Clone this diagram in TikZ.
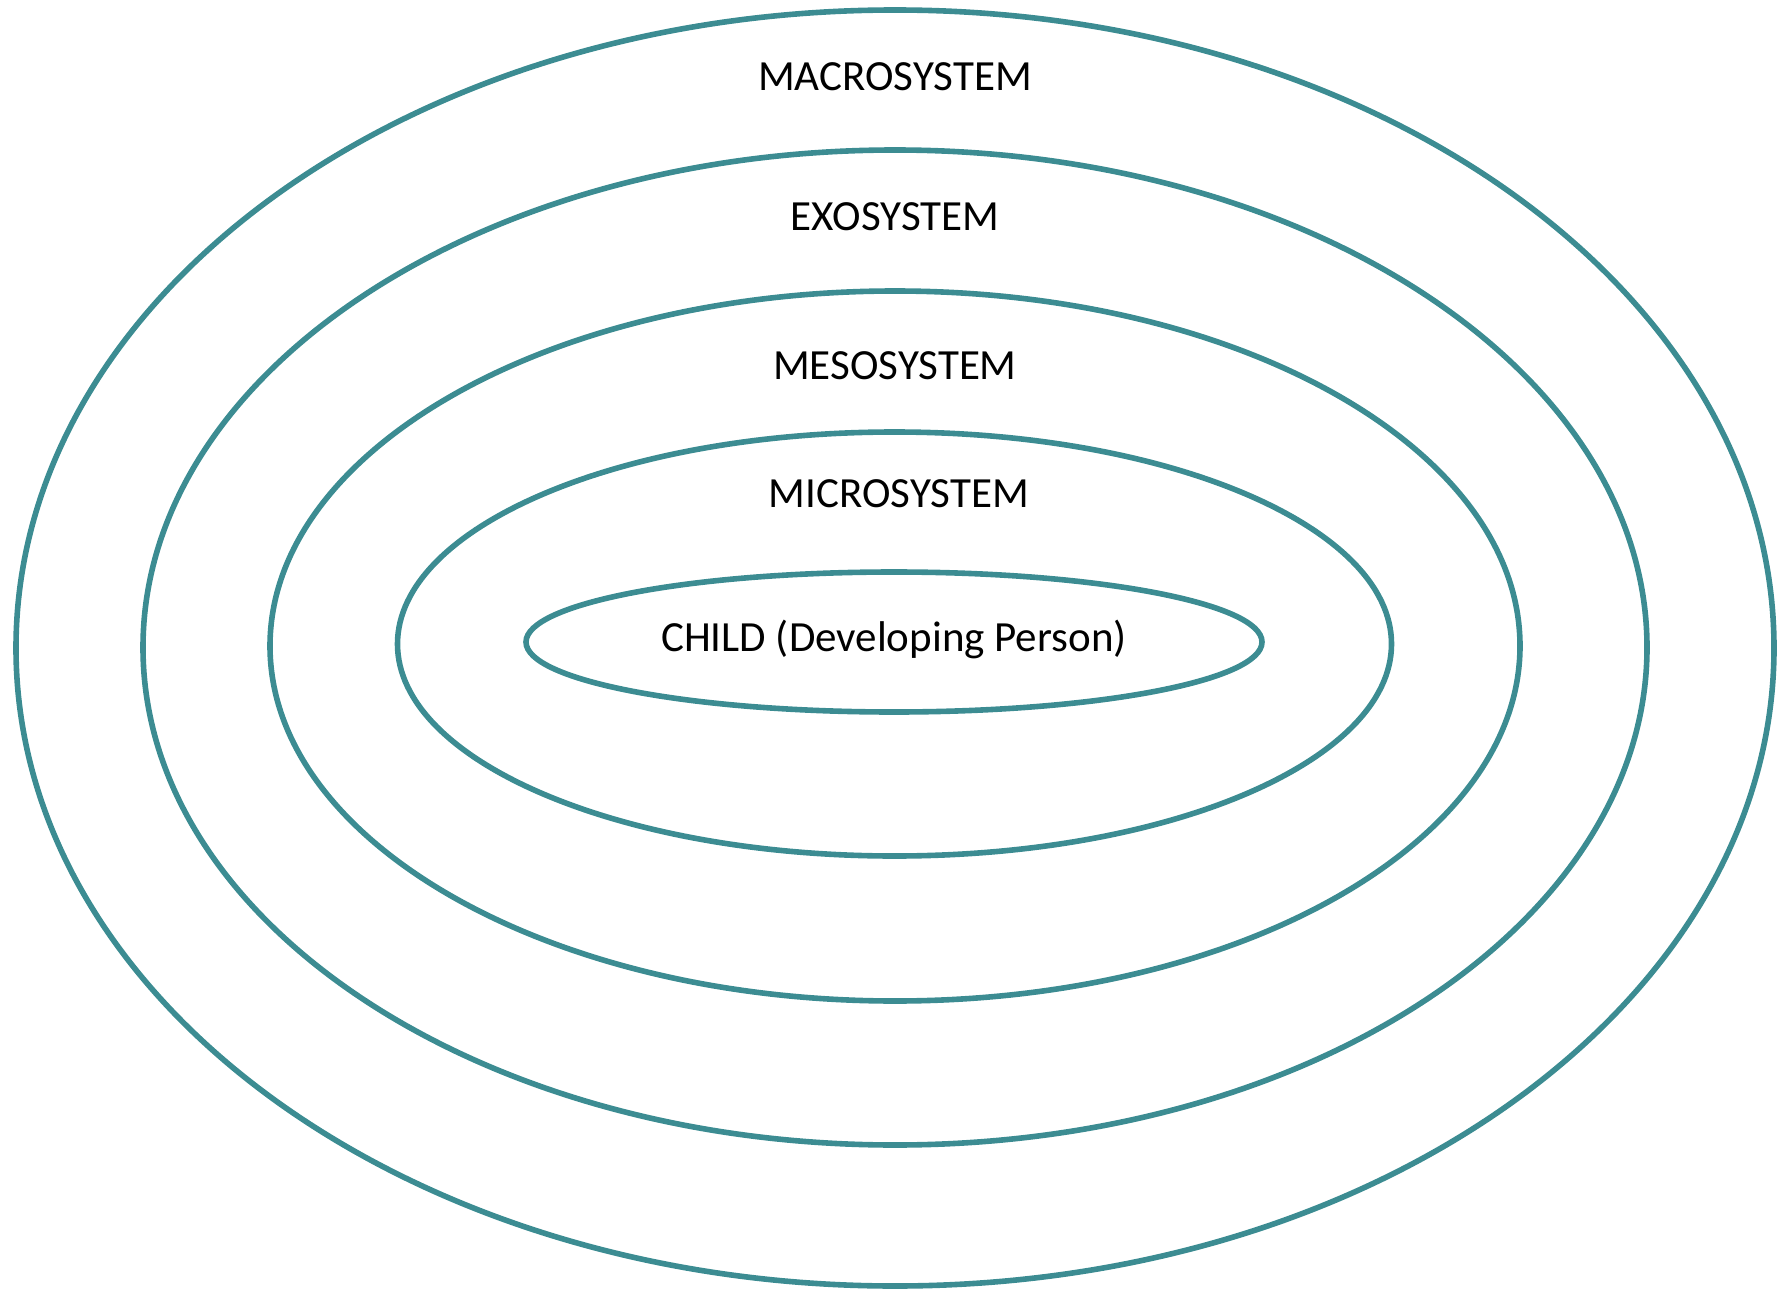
\documentclass[tikz,border=0pt]{standalone}
\usepackage{fontspec}
\setmainfont{Carlito}
\begin{document}
\definecolor{ringteal}{RGB}{60,140,146}
\begin{tikzpicture}[x=1pt,y=-1pt,
  ring/.style={draw=ringteal,line width=5.6pt},
  layer/.style={anchor=base,inner sep=0pt,text=black,font=\fontsize{43}{51}\selectfont}]
\useasboundingbox (0,0) rectangle (1783,1290);
% nested system rings, outermost first
\draw[ring] (895,648) ellipse [x radius=879, y radius=638];
\draw[ring] (895,647.5) ellipse [x radius=752, y radius=497.5];
\draw[ring] (895,646) ellipse [x radius=625, y radius=355];
\draw[ring] (894.5,644) ellipse [x radius=497, y radius=212];
\draw[ring] (894,642) ellipse [x radius=368, y radius=70];
% layer names
\node[layer] (macro) at (895,91) {MACROSYSTEM};
\node[layer] (exo) at (895,230) {EXOSYSTEM};
\node[layer] (meso) at (895,379) {MESOSYSTEM};
\node[layer] (micro) at (899,507) {MICROSYSTEM};
\node[layer] (child) at (894,651) {CHILD (Developing Person)};
\end{tikzpicture}
\end{document}
